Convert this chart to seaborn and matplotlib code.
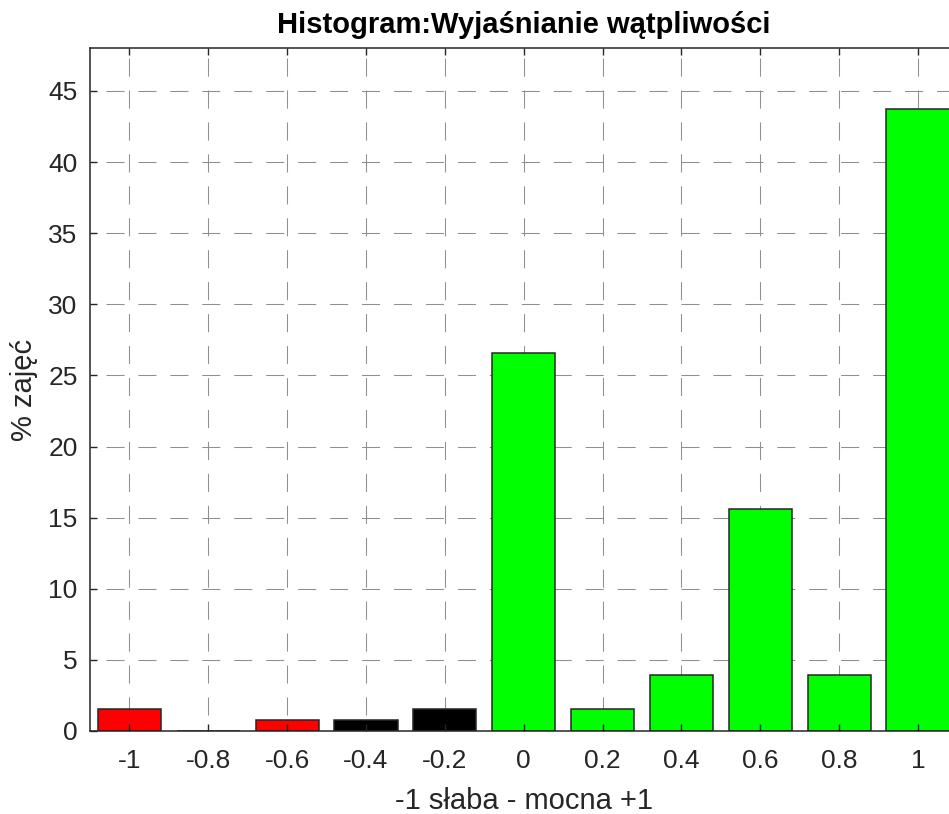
import matplotlib
matplotlib.use("Agg")
import matplotlib.pyplot as plt
import seaborn as sns
import pandas as pd

# Histogram bins (strength -1 weak ... +1 strong) and share of classes in percent
bins = [-1.0, -0.8, -0.6, -0.4, -0.2, 0.0, 0.2, 0.4, 0.6, 0.8, 1.0]
percent = [1.5625, 0.0, 0.78125, 0.78125, 1.5625, 26.5625, 1.5625, 3.90625, 15.625, 3.90625, 43.75]
groups = ["neg", "neg", "neg", "mid", "mid", "pos", "pos", "pos", "pos", "pos", "pos"]
group_colors = {"neg": "#ff0000", "mid": "#000000", "pos": "#00ff00"}

tick_labels = ["-1", "-0.8", "-0.6", "-0.4", "-0.2", "0", "0.2", "0.4", "0.6", "0.8", "1"]
y_ticks = [0, 5, 10, 15, 20, 25, 30, 35, 40, 45]

title = "Histogram:Wyjaśnianie wątpliwości"
x_label = "-1 słaba - mocna +1"
y_label = "% zajęć"

sns.set_theme(style="white")
plt.rcParams["font.family"] = ["Liberation Sans", "DejaVu Sans"]
plt.rcParams["lines.scale_dashes"] = False

df = pd.DataFrame({"bin": bins, "percent": percent, "group": groups})

W, H = 949, 814
fig = plt.figure(figsize=(W / 100, H / 100), dpi=100)
ax = fig.add_axes([90 / W, (H - 731) / H, (957.4 - 90) / W, (731 - 48.3) / H])

sns.barplot(data=df, x="bin", y="percent", hue="group", palette=group_colors,
            saturation=1, native_scale=True, dodge=False, width=0.8, legend=False,
            edgecolor="#262626", linewidth=1.1, ax=ax, zorder=1)

ax.set_xlim(-1.1, 1.1)
ax.set_ylim(0, 48)
ax.set_xticks(bins)
ax.set_xticklabels(tick_labels)
ax.set_yticks(y_ticks)

# dashed grid under the bars, ticks stay on top
grid_kw = dict(color="#8f8f8f", lw=0.75, zorder=0.5)
for yv in y_ticks[1:]:
    ax.axhline(yv, linestyle=(11.5, (13, 10)), **grid_kw)
for xv in bins:
    ax.axvline(xv, linestyle=(11.5, (13, 10)), **grid_kw)
ax.grid(False)
ax.set_axisbelow(False)

for s in ax.spines.values():
    s.set_color("#262626")
    s.set_linewidth(1.1)
    s.set_visible(True)

ax.tick_params(axis="both", which="major", direction="in", length=5, width=1.0,
               color="#262626", labelcolor="#262626", labelsize=19,
               top=True, right=True, bottom=True, left=True)
ax.tick_params(axis="x", pad=13)
ax.tick_params(axis="y", pad=9)

ax.set_title(title, fontsize=21, fontweight="bold", color="black", pad=11)
ax.set_xlabel(x_label, fontsize=21, color="#262626", labelpad=10)
ax.set_ylabel(y_label, fontsize=21, color="#262626", labelpad=7)

fig.savefig("out.png", dpi=100)
